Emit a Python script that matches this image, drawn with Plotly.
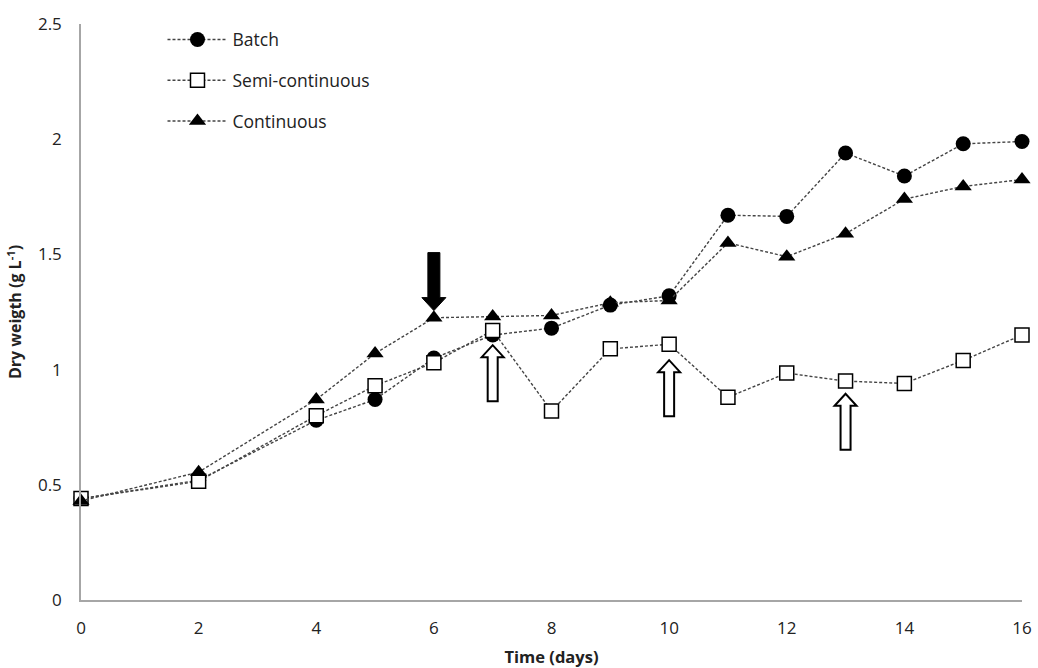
import plotly.graph_objects as go

days = [0, 2, 4, 5, 6, 7, 8, 9, 10, 11, 12, 13, 14, 15, 16]
batch = [0.44, 0.52, 0.78, 0.87, 1.05, 1.15, 1.18, 1.28, 1.32, 1.67, 1.665, 1.94, 1.84, 1.98, 1.99]
semi = [0.44, 0.515, 0.80, 0.93, 1.03, 1.17, 0.82, 1.09, 1.11, 0.88, 0.985, 0.95, 0.94, 1.04, 1.15]
cont = [0.43, 0.555, 0.87, 1.07, 1.225, 1.23, 1.235, 1.29, 1.30, 1.55, 1.49, 1.59, 1.74, 1.795, 1.825]

# annotation arrows: (day, tip value)
down_arrows = [(6, 1.256)]
up_arrows = [(7, 1.106), (10, 1.041), (13, 0.895)]

x_ticks = [0, 2, 4, 6, 8, 10, 12, 14, 16]
y_ticks = [0, 0.5, 1, 1.5, 2, 2.5]
y_ticktext = ["0", "0.5", "1", "1.5", "2", "2.5"]

LINE = dict(color="#444444", width=1.4, dash="3px,2px")
FONT = "Open Sans, Liberation Sans, sans-serif"

fig = go.Figure()
fig.add_trace(go.Scatter(x=days, y=batch, name="Batch", mode="lines+markers",
                         line=LINE, legendgroup="a", cliponaxis=False,
                         marker=dict(symbol="circle", size=15, color="black")))
fig.add_trace(go.Scatter(x=days, y=semi, name="Semi-continuous", mode="lines+markers",
                         line=LINE, legendgroup="b", cliponaxis=False,
                         marker=dict(symbol="square", size=14, color="white",
                                     line=dict(color="black", width=1.5))))
fig.add_trace(go.Scatter(x=days, y=cont, name="Continuous", mode="lines+markers",
                         line=LINE, legendgroup="c", cliponaxis=False,
                         marker=dict(symbol="triangle-up", size=15, color="black")))

shapes = []
for d, tip in down_arrows:
    path = "M -6 58 L 6 58 L 6 13 L 12 13 L 0 0 L -12 13 L -6 13 Z"
    shapes.append(dict(type="path", xref="x", yref="y", xsizemode="pixel", ysizemode="pixel",
                       xanchor=d, yanchor=tip, path=path,
                       fillcolor="black", line=dict(color="black", width=1)))
for d, tip in up_arrows:
    path = "M -5 -56 L 5 -56 L 5 -12 L 11 -12 L 0 0 L -11 -12 L -5 -12 Z"
    shapes.append(dict(type="path", xref="x", yref="y", xsizemode="pixel", ysizemode="pixel",
                       xanchor=d, yanchor=tip, path=path,
                       fillcolor="white", line=dict(color="black", width=2)))

fig.update_layout(
    width=1038, height=668,
    margin=dict(l=81, r=16, t=19, b=68),
    plot_bgcolor="white", paper_bgcolor="white",
    font=dict(family=FONT, size=17, color="#222222"),
    shapes=shapes,
    showlegend=True,
    legend=dict(x=0.0866, y=1.004, xanchor="left", yanchor="top",
                bgcolor="rgba(0,0,0,0)", font=dict(size=17.5, color="#222222"),
                itemwidth=60, tracegroupgap=15),
    xaxis=dict(range=[0, 16], tickvals=x_ticks, showgrid=False, zeroline=False,
               showline=True, linecolor="#a6a6a6", linewidth=1.5, ticks="",
               ticklabelstandoff=12, automargin=False,
               title=dict(text="<b>Time (days)</b>", font=dict(size=16.5), standoff=14)),
    yaxis=dict(range=[0, 2.5], tickvals=y_ticks, ticktext=y_ticktext,
               showgrid=False, zeroline=False,
               showline=True, linecolor="#a6a6a6", linewidth=1.5, ticks="",
               ticklabelstandoff=14,
               title=dict(text="<b>Dry weigth (g L<sup>-1</sup>)</b>", font=dict(size=16), standoff=12)),
)

fig.write_html("out.html")
